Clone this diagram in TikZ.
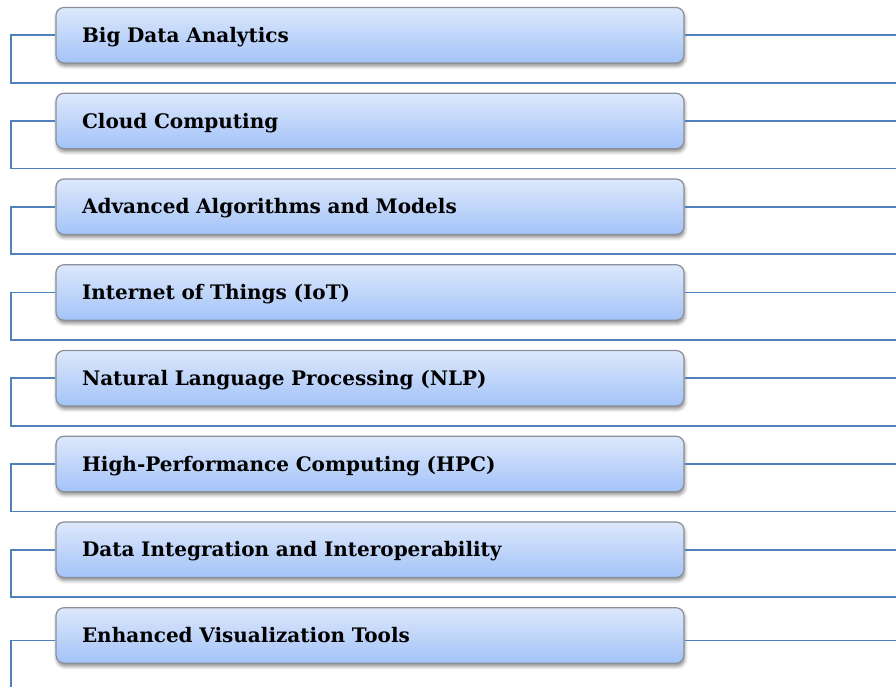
\documentclass[tikz,border=0pt]{standalone}
\usepackage{fontspec}
\setmainfont{DejaVu Serif}
\usetikzlibrary{shadows.blur}
\definecolor{linkblue}{HTML}{4F81BD}
\definecolor{boxtop}{HTML}{DDE8FB}
\definecolor{boxbot}{HTML}{A3C3F8}
\definecolor{boxedge}{HTML}{8A8F99}
\begin{document}
\begin{tikzpicture}[x=0.75pt,y=-0.75pt,
  itembox/.style={rounded corners=6pt, draw=boxedge, line width=0.9pt,
    top color=boxtop, bottom color=boxbot,
    minimum width=471pt, minimum height=41.6pt, inner xsep=19.5pt,
    text width=432pt, align=left, text height=10.9pt, text depth=0pt,
    font=\bfseries\fontsize{15}{17}\selectfont,
    blur shadow={shadow xshift=0.6pt, shadow yshift=-2.4pt, shadow blur radius=2.5pt, shadow opacity=45}},
  link/.style={draw=linkblue, line width=1.3pt}]
\useasboundingbox (0,0) rectangle (896,687);
\foreach \t [count=\i from 0] in {Big Data Analytics, Cloud Computing, Advanced Algorithms and Models, Internet of Things (IoT), Natural Language Processing (NLP), High-Performance Computing (HPC), Data Integration and Interoperability, Enhanced Visualization Tools}{
  \pgfmathsetmacro{\ym}{35.2+85.75*\i}
  \node[itembox] (b\i) at (370,\ym) {\t};
}
\foreach \i in {0,...,6}{
  \pgfmathsetmacro{\ym}{35.2+85.75*\i}
  \pgfmathsetmacro{\yb}{82.7+85.75*\i}
  \coordinate (rt\i) at (896,\ym);
  \coordinate (k\i) at (11,\yb);
  \coordinate (e\i) at (896,\yb);
  \draw[link] (b\i.east) -- (rt\i);
  \draw[link] (b\i.west) -| (k\i) -- (e\i);
}
\coordinate (m7) at (0,640.5);
\coordinate (rt7) at (896,640.5);
\coordinate (k7) at (11,687);
\draw[link] (b7.east |- m7) -- (rt7);
\draw[link] (b7.west |- m7) -| (k7);
\end{tikzpicture}
\end{document}
